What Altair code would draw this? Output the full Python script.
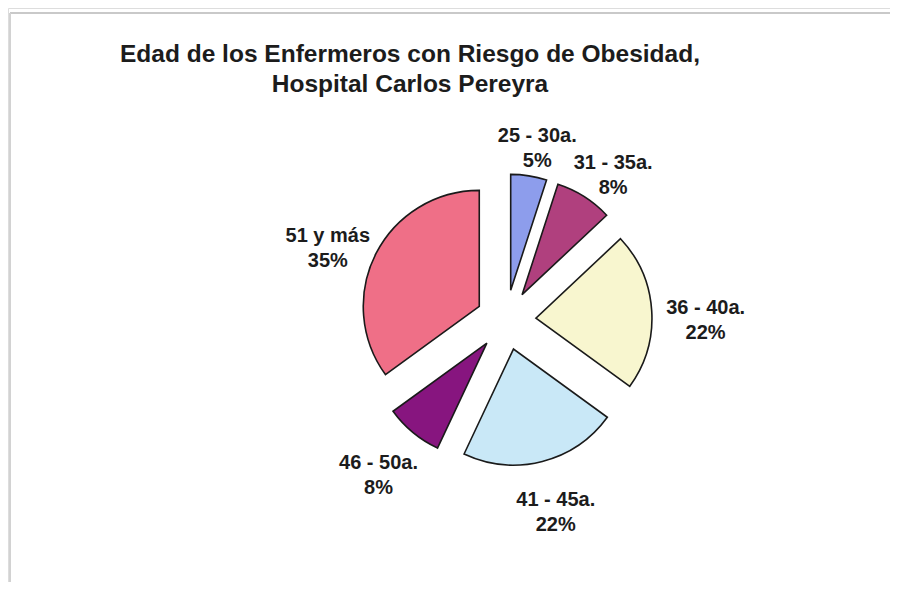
import altair as alt
import pandas as pd

# ---- data ----
categories = ["25 - 30a.", "31 - 35a.", "36 - 40a.", "41 - 45a.", "46 - 50a.", "51 y más"]
percents = [5, 8, 22, 22, 8, 35]
colors = ["#8D9DEC", "#B0407E", "#F8F6CF", "#C9E8F7", "#87157F", "#EF6F87"]
title_lines = ["Edad de los Enfermeros con Riesgo de Obesidad,", "Hospital Carlos Pereyra"]

df = pd.DataFrame({"cat": categories, "pct": percents, "idx": list(range(len(categories)))})

# ---- styling / geometry ----
W, H = 882, 574
CX, CY = 498, 312       # pie centre (plot px)
R = 116                 # pie radius
EXPLODE = 30            # slice explosion distance
LRX, LRY = 200, 186     # label ellipse radii
FONT = "Liberation Sans"

base = alt.Chart(df).transform_window(
    cum="sum(pct)", sort=[alt.SortField("idx")], frame=[None, 0]
).transform_joinaggregate(
    total="sum(pct)"
).transform_calculate(
    t0="2*PI*(datum.cum - datum.pct)/datum.total",
    t1="2*PI*datum.cum/datum.total",
).transform_calculate(
    mid="(datum.t0 + datum.t1)/2"
).transform_calculate(
    ox=f"{CX} + {EXPLODE}*sin(datum.mid)",
    oy=f"{CY} - {EXPLODE}*cos(datum.mid)",
    lx=f"{CX} + {LRX}*sin(datum.mid)",
    ly=f"{CY} - {LRY}*cos(datum.mid)",
    label="datum.cat + '\\n' + datum.pct + '%'",
)

arcs = base.mark_arc(outerRadius=R, stroke="#1a1a1a", strokeWidth=1.6, strokeJoin="miter").encode(
    x=alt.X("ox:Q", scale=None, axis=None),
    y=alt.Y("oy:Q", scale=None, axis=None),
    theta=alt.Theta("t0:Q", scale=None),
    theta2="t1:Q",
    color=alt.Color("cat:N", scale=alt.Scale(domain=categories, range=colors), legend=None),
)

labels = base.mark_text(
    font=FONT, fontSize=20, fontWeight="bold", color="#1c1c1c",
    lineBreak="\n", lineHeight=25, align="center", baseline="middle",
).encode(
    x=alt.X("lx:Q", scale=None, axis=None),
    y=alt.Y("ly:Q", scale=None, axis=None),
    text="label:N",
)

title = alt.Chart(pd.DataFrame({"t": ["\n".join(title_lines)]})).mark_text(
    font=FONT, fontSize=24.5, fontWeight="bold", color="#1c1c1c",
    lineBreak="\n", lineHeight=30, align="center", baseline="alphabetic",
).encode(
    x=alt.value(402), y=alt.value(54), text="t:N"
)

frame_top = alt.Chart(pd.DataFrame({"a": [0]})).mark_rule(color="#c9c9c9", strokeWidth=2).encode(
    x=alt.value(2), x2=alt.value(W), y=alt.value(5)
)
frame_left = alt.Chart(pd.DataFrame({"a": [0]})).mark_rule(color="#d2d2d2", strokeWidth=2).encode(
    x=alt.value(2), y=alt.value(5), y2=alt.value(H)
)

chart = alt.layer(frame_top, frame_left, arcs, labels, title).properties(
    width=W, height=H, padding=0, autosize=alt.AutoSizeParams(type="none")
).configure_view(stroke=None).configure(background="white")

chart.save("out.html", embed_options={"renderer": "svg", "actions": False})
